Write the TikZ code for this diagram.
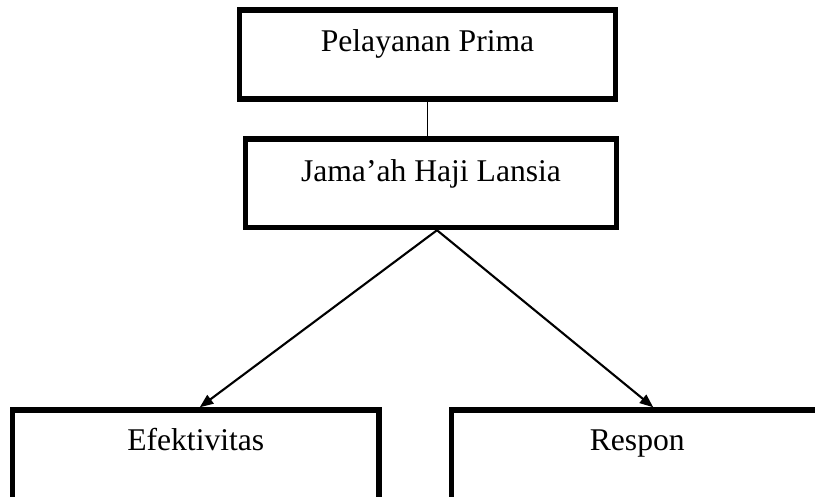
\documentclass[tikz,border=0pt]{standalone}
\usepackage{fontspec}
\setmainfont{Liberation Serif}
\usetikzlibrary{arrows.meta}

\begin{document}
\begin{tikzpicture}[x=0.02cm, y=-0.02cm,
    kotak/.style={draw=black, line width=3.1pt, inner sep=0pt, font=\fontsize{18}{20}\selectfont},
    panah/.style={-{Triangle[length=0.27cm,width=0.21cm]}, line width=1.2pt}]
    \clip (0,0) rectangle (815,497);

    \node[kotak, minimum width=7.52cm, text height=0.83cm, text depth=0.95cm] (prima) at (427.5,54.5) {Pelayanan Prima};
    \node[kotak, minimum width=7.43cm, text height=0.85cm, text depth=0.92cm] (lansia) at (431,183.25) {Jama'ah Haji Lansia};
    \node[kotak, minimum width=7.33cm, text height=0.8cm, text depth=1.1cm] (efektif) at (195.75,457.5) {Efektivitas};
    \node[kotak, minimum width=7.43cm, text height=0.8cm, text depth=1.1cm] (respon) at (637.25,457.5) {Respon};

    \draw[line width=1pt] (prima.south) -- (prima.south |- lansia.north);
    \draw[panah] ([xshift=0.12cm]lansia.south) -- ([xshift=0.08cm]efektif.north);
    \draw[panah] ([xshift=0.12cm]lansia.south) -- ([xshift=0.32cm]respon.north);
\end{tikzpicture}
\end{document}
